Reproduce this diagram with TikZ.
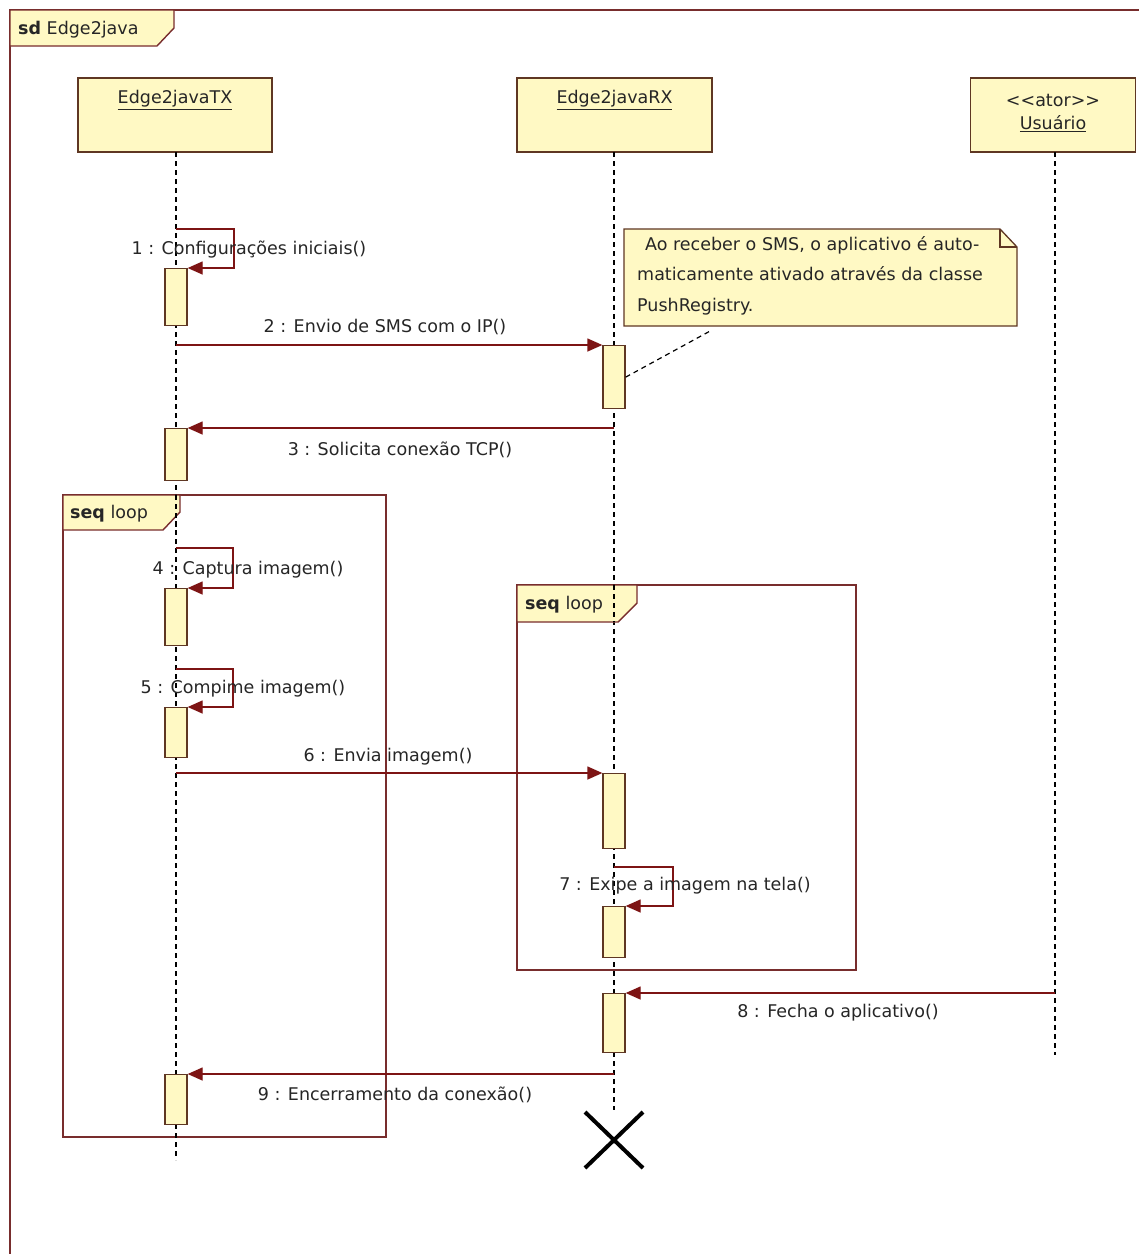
\documentclass[tikz,border=0pt]{standalone}
\usepackage{fontspec}
\setmainfont{DejaVu Sans}
\usetikzlibrary{arrows.meta}
\definecolor{boxfill}{RGB}{255,249,196}
\definecolor{boxdraw}{RGB}{95,55,35}
\definecolor{framecol}{RGB}{120,45,45}
\definecolor{msgcol}{RGB}{125,20,20}
\tikzset{
  lbl/.style={font=\fontsize{17.5}{20}\selectfont, inner sep=0pt, text=black!85},
  head/.style={draw=boxdraw, fill=boxfill, line width=1.3pt, minimum height=74pt, inner sep=0pt},
  act/.style={draw=boxdraw, fill=boxfill, line width=1.3pt, minimum width=22pt, inner sep=0pt, anchor=north},
  lifeline/.style={draw=black, line width=1.3pt, dash pattern=on 5pt off 4pt},
  msg/.style={draw=msgcol, line width=1.3pt, -{Triangle[length=15pt,width=13pt]}},
  framestyle/.style={draw=framecol, line width=1.4pt},
  tabstyle/.style={draw=framecol, fill=boxfill, line width=1.4pt},
}
\begin{document}
\begin{tikzpicture}[x=1pt,y=-1pt]
\clip (0,0) rectangle (1139,1254);
\fill[white] (0,0) rectangle (1139,1254);
% outer frame
\draw[framestyle] (1200,10) -- (10,10) -- (10,1300);
\draw[tabstyle] (10,10) -- (174,10) -- (174,28) -- (157,46) -- (10,46) -- cycle;
\node[lbl, anchor=west] (sdlbl) at (18,30) {\textbf{sd} Edge2java};
% loop frames
\draw[framestyle] (63,495) rectangle (386,1137);
\draw[framestyle] (517,585) rectangle (856,970);
% lifeline heads
\node[head, minimum width=194pt] (tx) at (175,115) {};
\node[head, minimum width=195pt] (rx) at (614.5,115) {};
\node[head, minimum width=165pt] (us) at (1053,115) {};
\node[lbl] (txname) at (175,100) {\underline{Edge2javaTX}};
\node[lbl] (rxname) at (614.5,100) {\underline{Edge2javaRX}};
\node[lbl] (usster) at (1053,100) {<{}<ator>{}>};
\node[lbl] (usname) at (1053,124) {\underline{Usuário}};
% lifelines
\coordinate (txend) at (176,1160);
\coordinate (dest) at (614,1140);
\coordinate (usend) at (1055,1055);
\draw[lifeline] (176,152) -- (txend);
\draw[lifeline] (614,152) -- (614,1110);
\draw[lifeline] (1055,152) -- (usend);
% loop tabs (over lifelines)
\draw[tabstyle] (63,495) -- (180,495) -- (180,512) -- (163,530) -- (63,530) -- cycle;
\node[lbl, anchor=west] (loop1lbl) at (70,514) {\textbf{seq} loop};
\draw[tabstyle] (517,585) -- (637,585) -- (637,603) -- (618,622) -- (517,622) -- cycle;
\node[lbl, anchor=west] (loop2lbl) at (525,605) {\textbf{seq} loop};
\draw[lifeline] (176,495) -- (176,530);
\draw[lifeline] (614,585) -- (614,622);
% activations
\node[act, minimum height=57pt] (a1) at (176,268) {};
\node[act, minimum height=63pt] (a2) at (614,345) {};
\node[act, minimum height=52pt] (a3) at (176,428) {};
\node[act, minimum height=57pt] (a4) at (176,588) {};
\node[act, minimum height=50pt] (a5) at (176,707) {};
\node[act, minimum height=75pt] (a6) at (614,773) {};
\node[act, minimum height=51pt] (a7) at (614,906) {};
\node[act, minimum height=59pt] (a8) at (614,993) {};
\node[act, minimum height=50pt] (a9) at (176,1074) {};
% note
\coordinate (nw) at (624,229);
\coordinate (ne) at (1000,229);
\coordinate (nf) at (1017,247);
\coordinate (sw) at (624,326);
\coordinate (se) at (1017,326);
\fill[boxfill] (nw) -- (ne) -- (nf) -- (se) -- (sw) -- cycle;
\node[lbl, anchor=north west, align=left, font=\fontsize{17.5}{30.5}\selectfont] (note) at (637,236)
  {\hspace{8pt}Ao receber o SMS, o aplicativo é auto-\\maticamente ativado através da classe\\PushRegistry.};
\draw[draw=boxdraw, line width=1.3pt] (nw) -- (ne) -- (nf) -- (se) -- (sw) -- cycle;
\draw[draw=boxdraw, line width=1.1pt] (ne) -- (1000,247) -- (nf);
\coordinate (nl) at (712,330);
\draw[black, line width=1.2pt, dash pattern=on 5pt off 4pt] (a2.east) -- (nl);
% messages
\draw[msg] (176,229) -- (234,229) -- (234,268) -- (a1.north east);
\node[lbl] (m1) at (249,250) {1 : Configurações iniciais()};
\draw[msg] (176,345) -- (a2.north west);
\node[lbl] (m2) at (385,327) {2 : Envio de SMS com o IP()};
\draw[msg] (614,428) -- (a3.north east);
\node[lbl] (m3) at (400,450) {3 : Solicita conexão TCP()};
\draw[msg] (176,548) -- (233,548) -- (233,588) -- (a4.north east);
\node[lbl] (m4) at (248,570) {4 : Captura imagem()};
\draw[msg] (176,669) -- (233,669) -- (233,707) -- (a5.north east);
\node[lbl] (m5) at (243,689) {5 : Compime imagem()};
\draw[msg] (176,773) -- (a6.north west);
\node[lbl] (m6) at (388,757) {6 : Envia imagem()};
\draw[msg] (614,867) -- (673,867) -- (673,906) -- (a7.north east);
\node[lbl] (m7) at (685,886) {7 : Exipe a imagem na tela()};
\draw[msg] (1055,993) -- (a8.north east);
\node[lbl] (m8) at (838,1013) {8 : Fecha o aplicativo()};
\draw[msg] (614,1074) -- (a9.north east);
\node[lbl] (m9) at (395,1095) {9 : Encerramento da conexão()};
% destruction
\draw[black, line width=4pt] ([shift={(-29,-28)}]dest) -- ([shift={(29,28)}]dest);
\draw[black, line width=4pt] ([shift={(29,-28)}]dest) -- ([shift={(-29,28)}]dest);
\end{tikzpicture}
\end{document}
